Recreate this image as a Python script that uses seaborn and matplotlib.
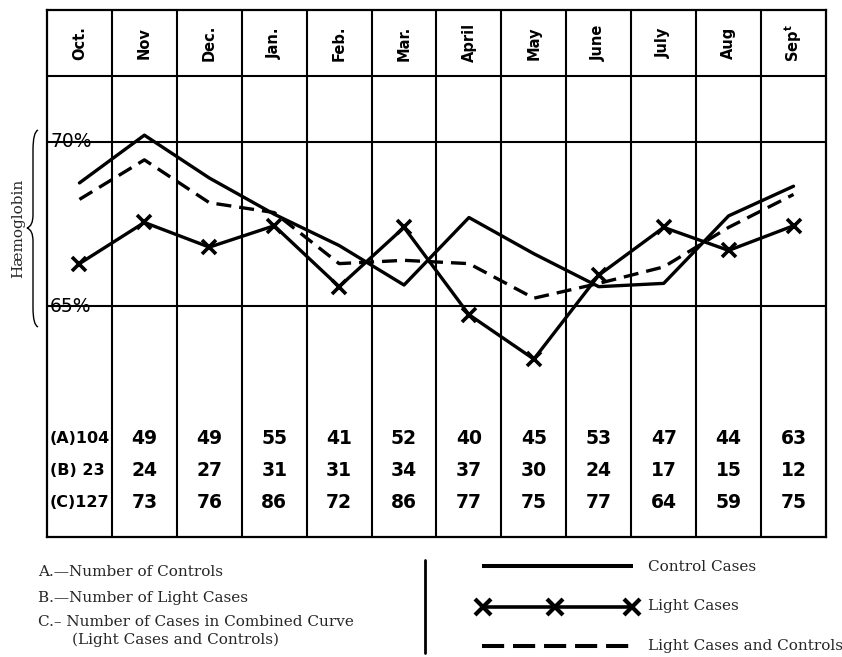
import numpy as np
import pandas as pd
import matplotlib
matplotlib.use("Agg")
import matplotlib.pyplot as plt
import seaborn as sns
from matplotlib.path import Path
from matplotlib.patches import PathPatch

# ---------------- data ----------------
months = ["Oct.", "Nov", "Dec.", "Jan.", "Feb.", "Mar.", "April", "May",
          "June", "July", "Aug", r"Sep$^{\mathbf{t}}$"]
control = [68.75, 70.2, 68.9, 67.8, 66.85, 65.65, 67.7, 66.6, 65.6, 65.7, 67.75, 68.65]
light = [66.3, 67.55, 66.8, 67.45, 65.6, 67.4, 64.75, 63.4, 65.95, 67.4, 66.7, 67.45]
combined = [68.25, 69.45, 68.15, 67.85, 66.3, 66.4, 66.3, 65.25, 65.7, 66.2, 67.4, 68.4]

row_prefix = ["(A)", "(B) ", "(C)"]
count_a = [104, 49, 49, 55, 41, 52, 40, 45, 53, 47, 44, 63]
count_b = [23, 24, 27, 31, 31, 34, 37, 30, 24, 17, 15, 12]
count_c = [127, 73, 76, 86, 72, 86, 77, 75, 77, 64, 59, 75]

pct_labels = ["70%", "65%"]
pct_values = [70, 65]
grid_levels = [72, 70, 65]
y_range = (58, 74)

legend_notes = ["A.\u2014Number of Controls",
                "B.\u2014Number of Light Cases",
                "C.\u2013 Number of Cases in Combined Curve",
                "(Light Cases and Controls)"]
legend_series = ["Control Cases", "Light Cases", "Light Cases and Controls"]

# ---------------- style ----------------
sns.set_style("white")
plt.rcParams["font.family"] = ["DejaVu Sans"]

W, H = 842, 657
fig = plt.figure(figsize=(W / 100, H / 100), dpi=100)

x_left, x_right, y_top, y_bot = 47, 826, 10, 537
ax = fig.add_axes([x_left / W, (H - y_bot) / H, (x_right - x_left) / W, (y_bot - y_top) / H])

n = len(months)
xs = np.arange(n) + 0.5
df = pd.DataFrame({"x": xs, "control": control, "light": light, "combined": combined})

LW = 2.4
sns.lineplot(data=df, x="x", y="control", ax=ax, color="black", linewidth=LW,
             legend=False, zorder=5)
sns.lineplot(data=df, x="x", y="light", ax=ax, color="black", linewidth=LW,
             marker="x", markersize=10, markeredgewidth=2.6,
             markeredgecolor="black", markerfacecolor="black",
             legend=False, zorder=6)
sns.lineplot(data=df, x="x", y="combined", ax=ax, color="black", linewidth=LW,
             linestyle=(0, (4.5, 2.4)), legend=False, zorder=5)

ax.set_xlim(0, n)
ax.set_ylim(*y_range)
ax.set_xticks([])
ax.set_yticks([])
ax.set_xlabel("")
ax.set_ylabel("")
for s in ax.spines.values():
    s.set_visible(True)
    s.set_linewidth(1.6)
    s.set_color("black")
for i in range(1, n):
    ax.axvline(i, color="black", lw=1.5, zorder=2)
for lv in grid_levels:
    ax.axhline(lv, color="black", lw=1.5, zorder=2)

# header month labels
for x, m in zip(xs, months):
    ax.text(x, 73.0, m, rotation=90, ha="center", va="center",
            fontsize=10.5, fontweight="bold", color="black")

# percentage labels
for lab, v in zip(pct_labels, pct_values):
    ax.text(0.05, v, lab, ha="left", va="center", fontsize=13.5, color="black",
            zorder=7)

# count table
rows_y = [61.0, 60.03, 59.05]
for ry, pre, vals in zip(rows_y, row_prefix, [count_a, count_b, count_c]):
    ax.text(0.04, ry, f"{pre}{vals[0]}", ha="left", va="center", fontsize=11.5,
            fontweight="bold", color="black")
    for x, v in zip(xs[1:], vals[1:]):
        ax.text(x, ry, str(v), ha="center", va="center", fontsize=13.5,
                fontweight="bold", color="black")

# ---------------- overlay (pixel coordinates) ----------------
ov = fig.add_axes([0, 0, 1, 1])
ov.set_xlim(0, W)
ov.set_ylim(H, 0)
ov.axis("off")

serif = ["DejaVu Serif"]
ov.text(18, 228, "H\u00e6moglobin", rotation=90, ha="center", va="center",
        fontsize=11, family=serif)

# curly brace
verts = [(38, 130), (33, 132), (33, 150),
         (33, 215),
         (33, 226), (27, 228),
         (33, 230), (33, 241),
         (33, 308),
         (33, 325), (38, 327)]
codes = [Path.MOVETO, Path.CURVE3, Path.CURVE3,
         Path.LINETO,
         Path.CURVE3, Path.CURVE3,
         Path.CURVE3, Path.CURVE3,
         Path.LINETO,
         Path.CURVE3, Path.CURVE3]
ov.add_patch(PathPatch(Path(verts, codes), fill=False, lw=1.0, color="black"))

# notes
ov.text(38, 572, legend_notes[0], ha="left", va="center", fontsize=11, family=serif)
ov.text(38, 598, legend_notes[1], ha="left", va="center", fontsize=11, family=serif)
ov.text(38, 622, legend_notes[2], ha="left", va="center", fontsize=11, family=serif)
ov.text(72, 640, legend_notes[3], ha="left", va="center", fontsize=11, family=serif)

# separator
ov.plot([425, 425], [560, 653], color="black", lw=2)

# legend samples
ov.plot([482, 633], [566, 566], color="black", lw=2.9, solid_capstyle="butt")
ov.plot([483, 555, 632], [607, 607, 607], color="black", lw=2.6, marker="x",
        markersize=11, markeredgewidth=3)
ov.plot([482, 633], [646, 646], color="black", lw=2.9, linestyle=(0, (5.5, 2.2)))
for yy, lab in zip([567, 606, 646], legend_series):
    ov.text(648, yy, lab, ha="left", va="center", fontsize=11, family=serif)

fig.savefig("out.png", dpi=100)
